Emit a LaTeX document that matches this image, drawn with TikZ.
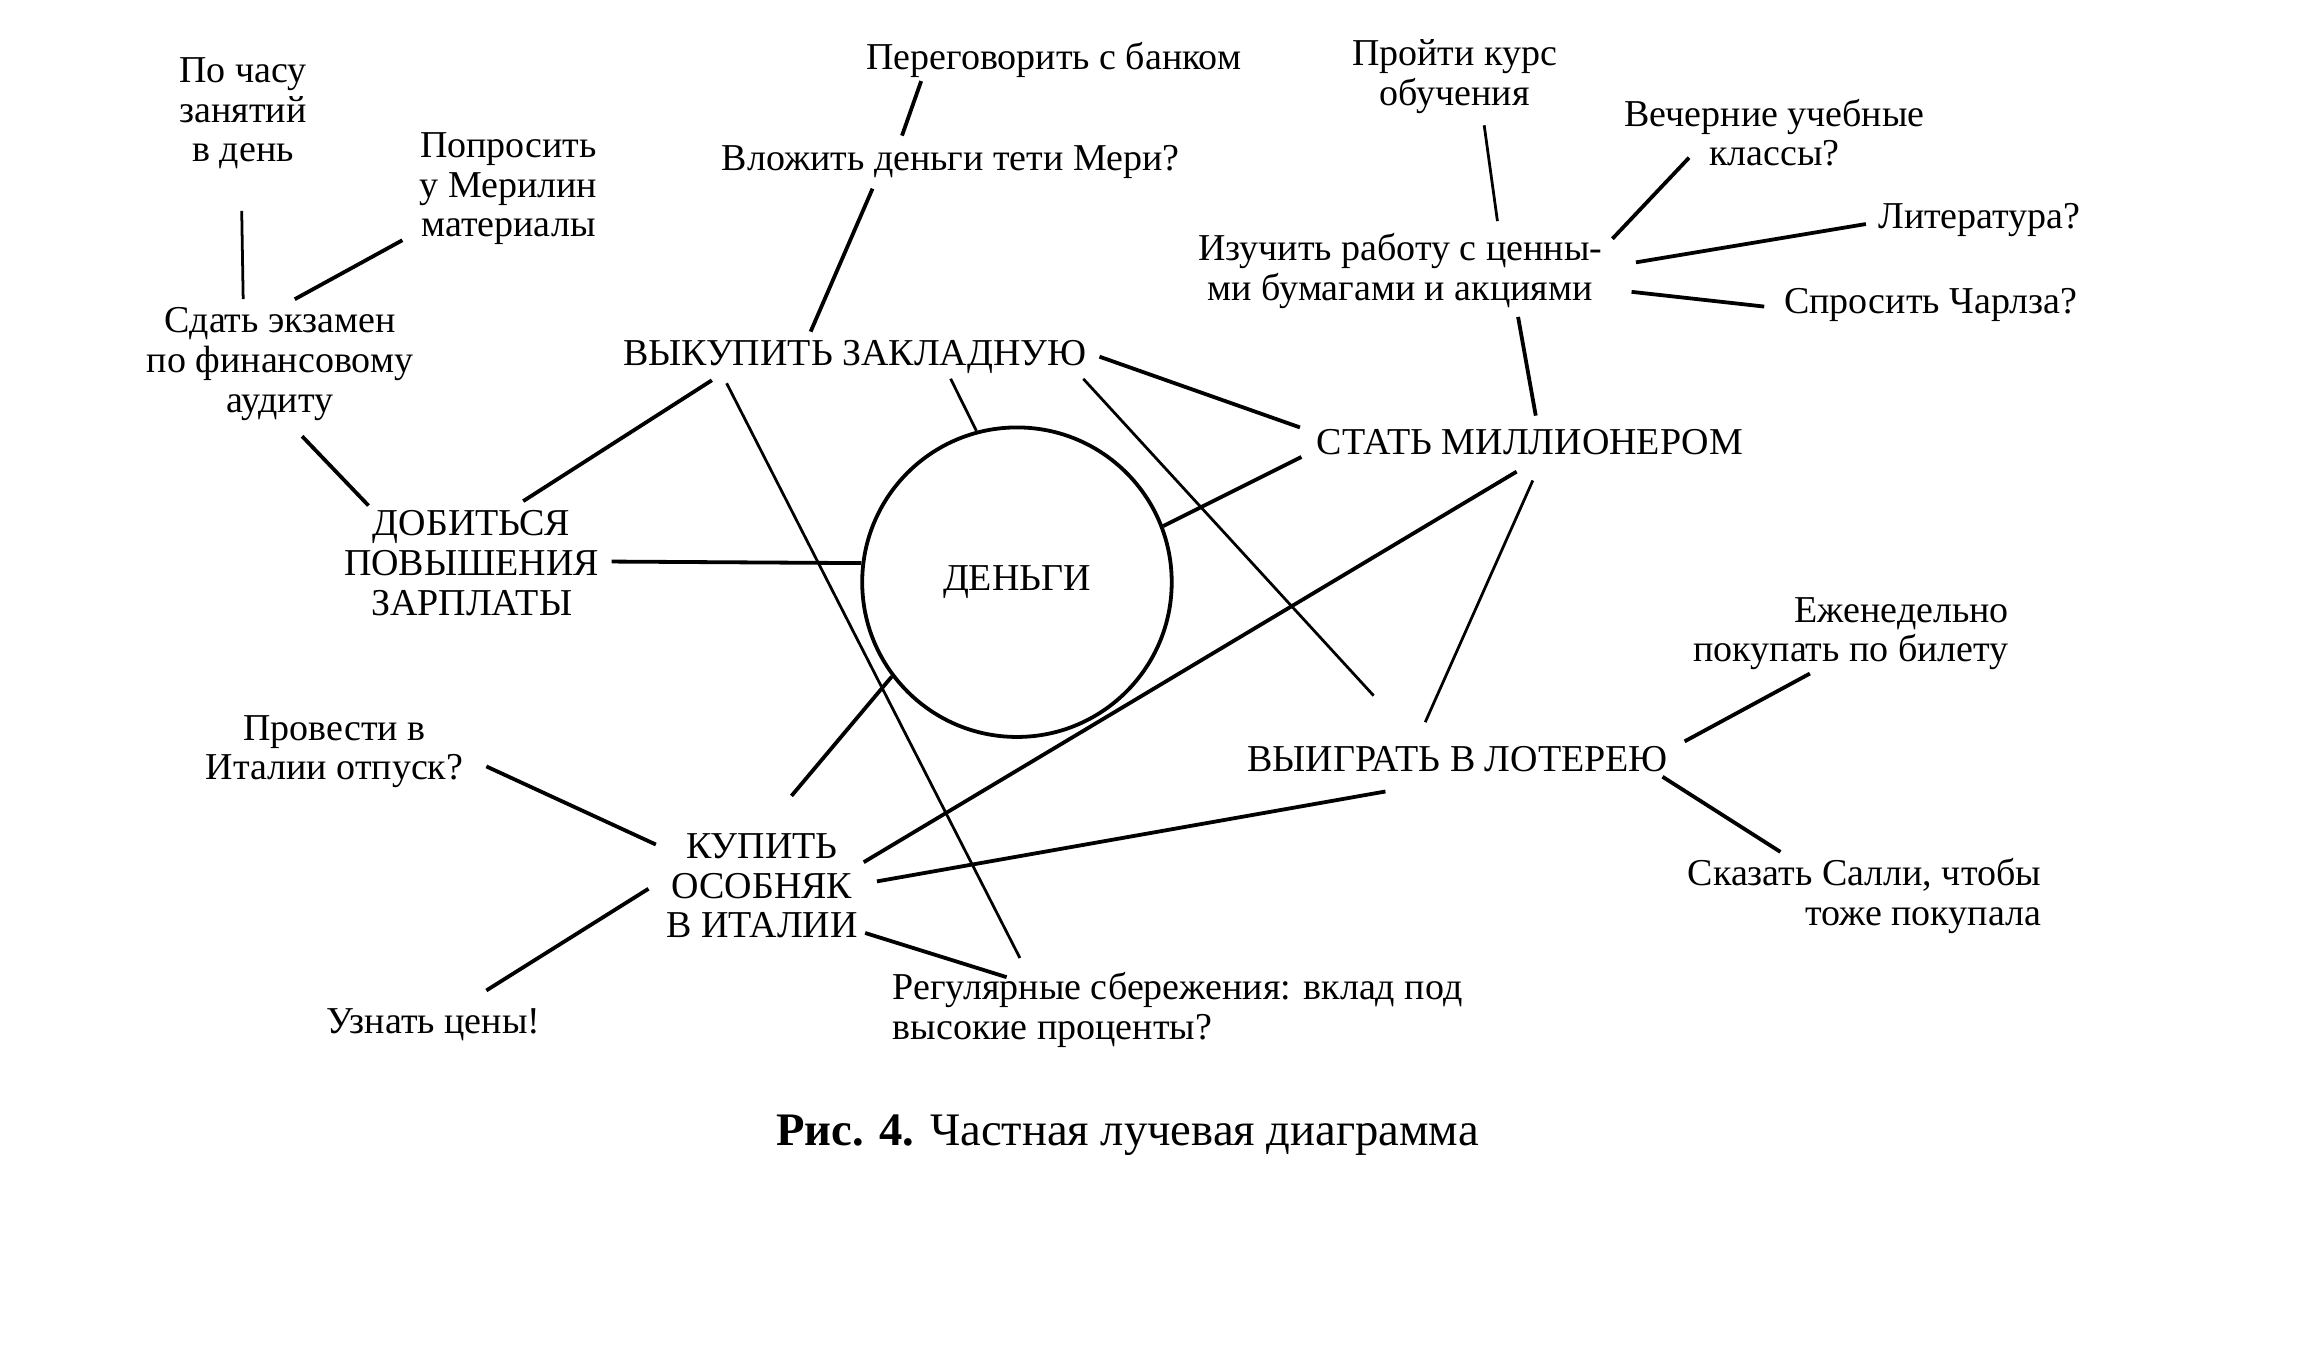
\documentclass[tikz,border=0pt]{standalone}
\usepackage{fontspec}
\setmainfont{Liberation Serif}
\usetikzlibrary{calc}

\tikzset{
  idea/.style={align=center, inner sep=1pt, font=\fontsize{11}{11.5}\selectfont},
  ray/.style={line width=1.1pt},
  thinray/.style={line width=0.8pt},
}

\begin{document}
\begin{tikzpicture}[x=0.015cm, y=-0.015cm]
\useasboundingbox (0,0) rectangle (1568,930);

% центр
\node[draw, circle, line width=1.1pt, minimum size=3.15cm, inner sep=0pt, font=\fontsize{11}{11.5}\selectfont] (dengi) at (690,395) {ДЕНЬГИ};

% ветви
\node[idea] (vykup)   at (580,242)  {ВЫКУПИТЬ ЗАКЛАДНУЮ};
\node[idea] (povysh)  at (320,382)  {ДОБИТЬСЯ\\ПОВЫШЕНИЯ\\ЗАРПЛАТЫ};
\node[idea] (million) at (1038,300) {СТАТЬ МИЛЛИОНЕРОМ};
\node[idea] (loter)   at (989,515)  {ВЫИГРАТЬ В ЛОТЕРЕЮ};
\node[idea] (osobn)   at (517,601)  {КУПИТЬ\\ОСОБНЯК\\В ИТАЛИИ};

% листья
\node[idea] (chas)    at (165,77)   {По часу\\занятий\\в день};
\node[idea] (prosit)  at (345,128)  {Попросить\\у Мерилин\\материалы};
\node[idea] (ekzamen) at (190,247)  {Сдать экзамен\\по финансовому\\аудиту};
\node[idea] (bank)    at (715,41)   {Переговорить с банком};
\node[idea] (meri)    at (645,110)  {Вложить деньги тети Мери?};
\node[idea] (kurs)    at (987,52)   {Пройти курс\\обучения};
\node[idea] (klassy)  at (1204,90)  {Вечерние учебные\\классы?};
\node[idea] (lit)     at (1343,149) {Литература?};
\node[idea] (izuch)   at (950,184)  {Изучить работу с ценны-\\ми бумагами и акциями};
\node[idea] (charlz)  at (1310,207) {Спросить Чарлза?};
\node[idea, align=right] (bilet) at (1256,430) {Еженедельно\\покупать по билету};
\node[idea, align=right] (salli) at (1265,608) {Сказать Салли, чтобы\\тоже покупала};
\node[idea] (otpusk)  at (227,510)  {Провести в\\Италии отпуск?};
\node[idea] (ceny)    at (294,695)  {Узнать цены!};
\node[idea, align=left, anchor=west] (sber) at (603,685) {Регулярные сбережения: вклад под\\высокие проценты?};

\node[font=\fontsize{13.5}{15}\selectfont] (caption) at (765,770) {\textbf{Рис. 4.} Частная лучевая диаграмма};

% лучи
\draw[thinray] ($(chas)+(-1,66)$) -- ($(ekzamen)+(-25,-44)$);
\draw[ray] ($(prosit)+(-72,35)$) -- ($(ekzamen)+(10,-44)$);
\draw[ray] ($(ekzamen)+(15,49)$) -- ($(povysh)+(-70,-39)$);
\draw[ray] ($(povysh)+(35,-42)$) -- ($(vykup)+(-97,16)$);
\draw[ray] ($(povysh)+(95,-1)$) -- (dengi.173);
\draw[ray] ($(bank)+(-90,14)$) -- ($(meri)+(-33,-18)$);
\draw[ray] ($(meri)+(-53,18)$) -- ($(vykup)+(-30,-17)$);
\draw[thinray] ($(vykup)+(65,15)$) -- (dengi.105);
\draw[ray] ($(vykup)+(166,0)$) -- ($(million)+(-156,-10)$);
\draw[thinray] ($(vykup)+(155,15)$) -- ($(loter)+(-57,-43)$);
\draw[thinray] ($(vykup)+(-87,18)$) -- ($(sber.west)+(89,-35)$);
\draw[ray] ($(million)+(-155,10)$) -- (dengi.21);
\draw[ray] ($(izuch)+(80,31)$) -- ($(million)+(4,-18)$);
\draw[thinray] ($(kurs)+(20,33)$) -- ($(izuch)+(66,-34)$);
\draw[ray] ($(klassy)+(-58,17)$) -- ($(izuch)+(144,-22)$);
\draw[ray] ($(lit)+(-77,3)$) -- ($(izuch)+(160,-6)$);
\draw[ray] ($(izuch)+(157,14)$) -- ($(charlz)+(-113,1)$);
\draw[ray] ($(million)+(-9,20)$) -- ($(osobn)+(69,-16)$);
\draw[thinray] ($(million)+(2,26)$) -- ($(loter)+(-22,-25)$);
\draw[ray] (dengi.217) -- ($(osobn)+(20,-61)$);
\draw[ray] ($(loter)+(-49,22)$) -- ($(osobn)+(78,-3)$);
\draw[ray] ($(loter)+(154,-12)$) -- ($(bilet)+(-28,27)$);
\draw[ray] ($(loter)+(139,12)$) -- ($(salli)+(-57,-30)$);
\draw[ray] ($(otpusk)+(103,10)$) -- ($(osobn)+(-72,-28)$);
\draw[ray] ($(osobn)+(-77,2)$) -- ($(ceny)+(36,-23)$);
\draw[ray] ($(osobn)+(70,32)$) -- ($(sber.west)+(80,-22)$);
\end{tikzpicture}
\end{document}
